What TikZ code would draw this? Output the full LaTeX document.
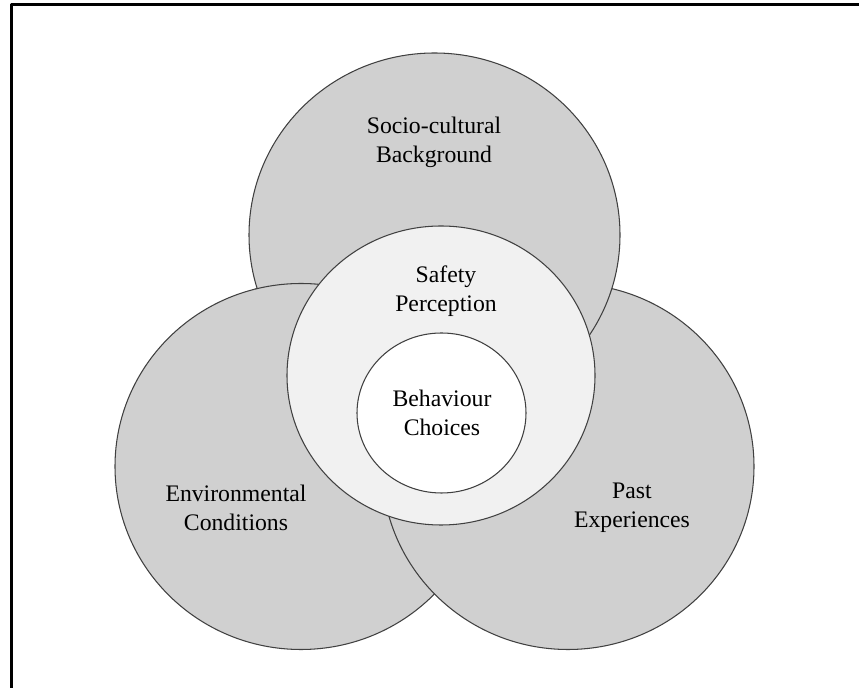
\documentclass[tikz,border=0pt]{standalone}
\usepackage{fontspec}
\setmainfont{Liberation Serif}
\definecolor{petalgray}{gray}{0.815}
\definecolor{ringgray}{gray}{0.945}
\definecolor{edgegray}{gray}{0.25}
\tikzset{
  petal/.style={fill=petalgray, draw=edgegray, line width=0.6pt},
  lbl/.style={align=center, text=black, font=\fontsize{13.5}{16.4}\selectfont}
}
\begin{document}
\begin{tikzpicture}[x=0.02cm, y=-0.02cm, line join=round, line cap=round]
  \useasboundingbox (0,0) rectangle (859,688);
  % frame (only top and left edge show)
  \draw[line width=1.5pt, line cap=butt] (11.5,688) -- (11.5,4.5) -- (859,4.5);
  % centres of the three outer circles
  \coordinate (soc) at (434.5,235);
  \coordinate (env) at (301,466.5);
  \coordinate (past) at (568,466.5);
  \def\rx{186} \def\ry{183}
  \draw[petal] (env) ellipse [x radius=\rx, y radius=\ry];
  \draw[petal] (past) ellipse [x radius=\rx, y radius=\ry];
  \draw[petal] (soc) ellipse [x radius=185.5, y radius=182];
  % left circle lies over the top one
  \begin{scope}
    \clip (soc) ellipse [x radius=188, y radius=184.5];
    \draw[petal] (env) ellipse [x radius=\rx, y radius=\ry];
  \end{scope}
  % perception ring and behaviour core
  \draw[fill=ringgray, draw=edgegray, line width=0.6pt] (441,375.5) ellipse [x radius=154, y radius=149.5];
  \draw[fill=white, draw=edgegray, line width=0.6pt] (441.5,413) ellipse [x radius=84.5, y radius=80];
  % labels
  \node[lbl] (socl) at (434,142) {Socio-cultural\\Background};
  \node[lbl] (safl) at (446,291) {Safety\\Perception};
  \node[lbl] (behl) at (442,413) {Behaviour\\Choices};
  \node[lbl] (envl) at (236,508) {Environmental\\Conditions};
  \node[lbl] (pastl) at (632,508) {Past\\Experiences};
\end{tikzpicture}
\end{document}
